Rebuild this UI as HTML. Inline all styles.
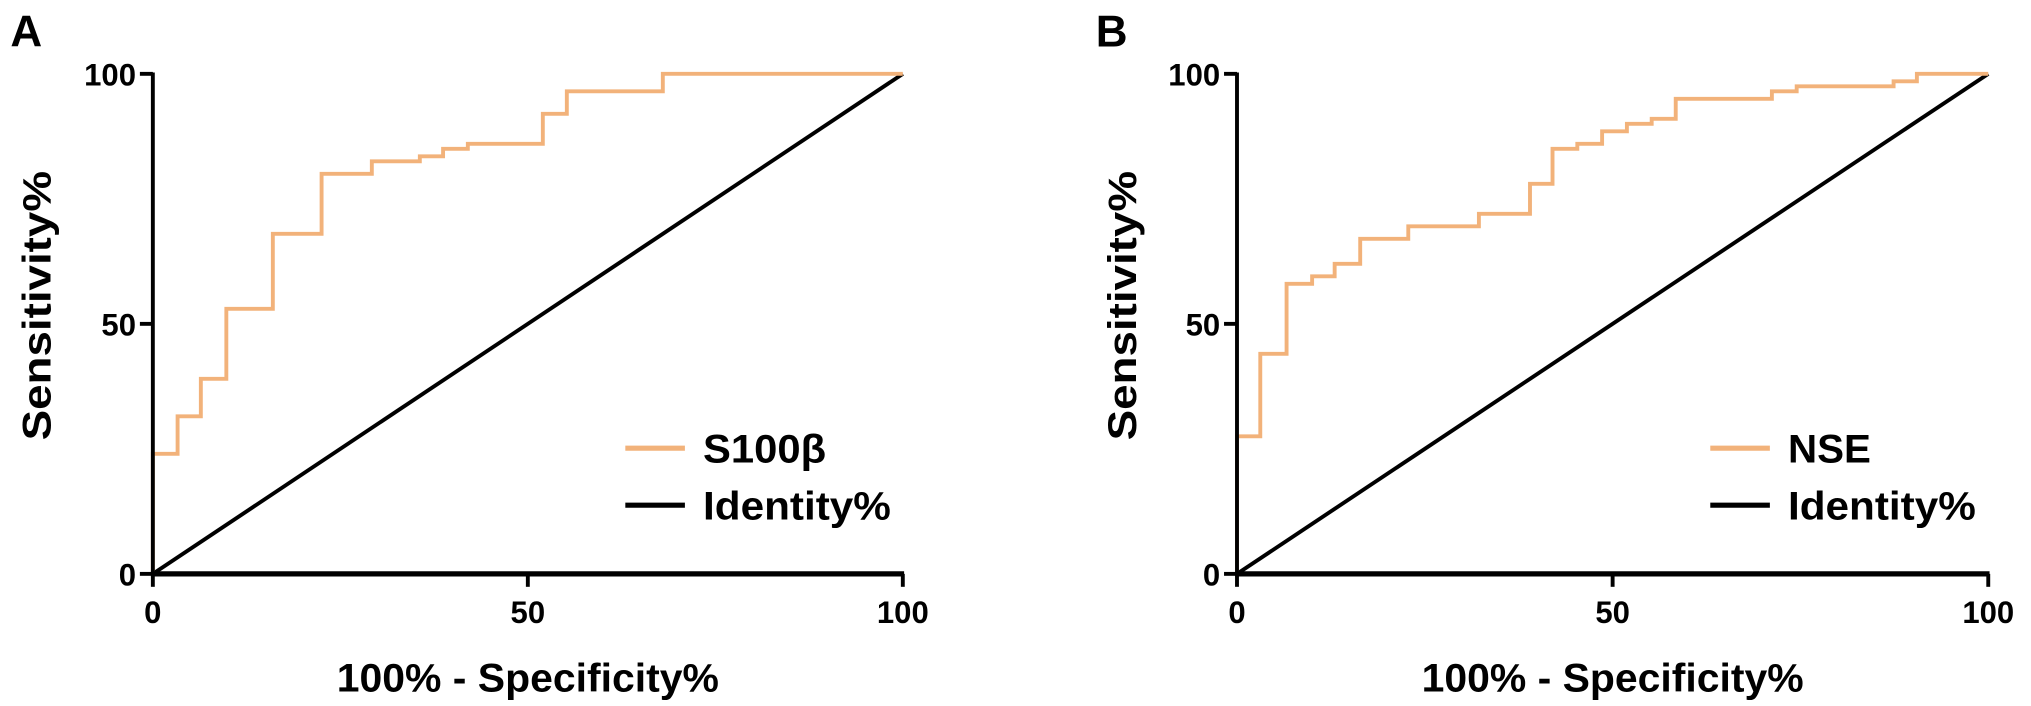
<!DOCTYPE html>
<html><head><meta charset="utf-8"><style>
body{margin:0;background:#fff;}
svg{display:block;}
svg text{font-family:"Liberation Sans",Arial,sans-serif;font-weight:bold;fill:#000;}
</style></head><body>
<svg id="chart" width="2031" height="706" viewBox="0 0 1568 545" preserveAspectRatio="none" xmlns="http://www.w3.org/2000/svg"></svg>
<script>
const ticks = [0, 50, 100];
const aX = [0, 3.3, 6.4, 9.8, 16, 22.5, 29.2, 35.6, 38.7, 42, 52, 55.2, 68, 100];
const aY = [24, 31.5, 39, 53, 68, 80, 82.5, 83.5, 85, 86, 92, 96.5, 100, 100];
const bX = [0, 3.1, 6.6, 10, 13, 16.4, 22.8, 32.2, 39, 42, 45.3, 48.6, 51.9, 55.2, 58.4, 71.2, 74.5, 87.4, 90.5, 100];
const bY = [27.5, 44, 58, 59.5, 62, 67, 69.5, 72, 78, 85, 86, 88.5, 90, 91, 95, 96.5, 97.5, 98.5, 100, 100];
const panels = [
  {id:'a', letter:'A', x0:118, x1:697, sx:aX, sy:aY, name:'S100β', nameLen:95, lx:8},
  {id:'b', letter:'B', x0:955, x1:1535, sx:bX, sy:bY, name:'NSE', nameLen:64, lx:846}
];
const NS='http://www.w3.org/2000/svg';
const svg=document.getElementById('chart');
const Y0=443, Y1=57;
function mk(tag, attrs, parent, text){
  const e=document.createElementNS(NS,tag);
  for(const k in attrs) e.setAttribute(k, attrs[k]);
  if(text!==undefined) e.textContent=text;
  (parent||svg).appendChild(e); return e;
}
panels.forEach(p=>{
  const g=mk('g',{});
  
  
  const xs=v=>p.x0+(p.x1-p.x0)*v/100;
  const ys=v=>Y0-(Y0-Y1)*v/100;
  const L=mk('text',{x:p.lx,y:36,'font-size':34},g,p.letter);
  
  
  const id=mk('line',{x1:xs(0),y1:ys(0),x2:xs(100),y2:ys(100),stroke:'#000','stroke-width':3},g);
  
  
  let d='M'+xs(0)+','+ys(0);
  for(let i=0;i<p.sx.length;i++){
    d+=' L'+xs(p.sx[i])+','+ys(i===0?p.sy[0]:p.sy[i-1]);
    d+=' L'+xs(p.sx[i])+','+ys(p.sy[i]);
  }
  const r=mk('path',{d:d,fill:'none',stroke:'#f2b27a','stroke-width':3},g);
  
  
  const ya=mk('line',{x1:xs(0),y1:ys(0)+2,x2:xs(0),y2:ys(100)-1,stroke:'#000','stroke-width':3},g);
  
  
  const xa=mk('line',{x1:xs(0)-1,y1:ys(0),x2:xs(100)+1,y2:ys(0),stroke:'#000','stroke-width':4},g);
  
  
  ticks.forEach(t=>{
    mk('line',{x1:xs(0)-10,y1:ys(t),x2:xs(0),y2:ys(t),stroke:'#000','stroke-width':3},g);
    const yl=mk('text',{x:xs(0)-13,y:ys(t)+9,'font-size':24,'text-anchor':'end'},g,String(t));
    
    
    mk('line',{x1:xs(t),y1:ys(0),x2:xs(t),y2:ys(0)+10,stroke:'#000','stroke-width':3},g);
    const xl=mk('text',{x:xs(t),y:ys(0)+38,'font-size':24,'text-anchor':'middle'},g,String(t));
    
    
  });
  const xt=mk('text',{x:xs(50),y:534,'font-size':31,'text-anchor':'middle',textLength:295,lengthAdjust:'spacingAndGlyphs'},g,'100% - Specificity%');
  
  
  const yt=mk('text',{x:0,y:0,'font-size':31,'text-anchor':'middle',textLength:208,lengthAdjust:'spacingAndGlyphs',transform:'translate('+(p.lx+31)+',236) rotate(-90)'},g,'Sensitivity%');
  
  
  const lg=mk('g',{},g);
  
  
  const lx=xs(63);
  mk('line',{x1:lx,y1:346,x2:lx+46,y2:346,stroke:'#f2b27a','stroke-width':4},lg);
  const t1=mk('text',{x:lx+60,y:357,'font-size':31,textLength:p.nameLen,lengthAdjust:'spacingAndGlyphs'},lg,p.name);
  
  
  mk('line',{x1:lx,y1:390,x2:lx+46,y2:390,stroke:'#000','stroke-width':4},lg);
  const t2=mk('text',{x:lx+60,y:401,'font-size':31,textLength:145,lengthAdjust:'spacingAndGlyphs'},lg,'Identity%');
  
  
});
</script>
</body></html>
